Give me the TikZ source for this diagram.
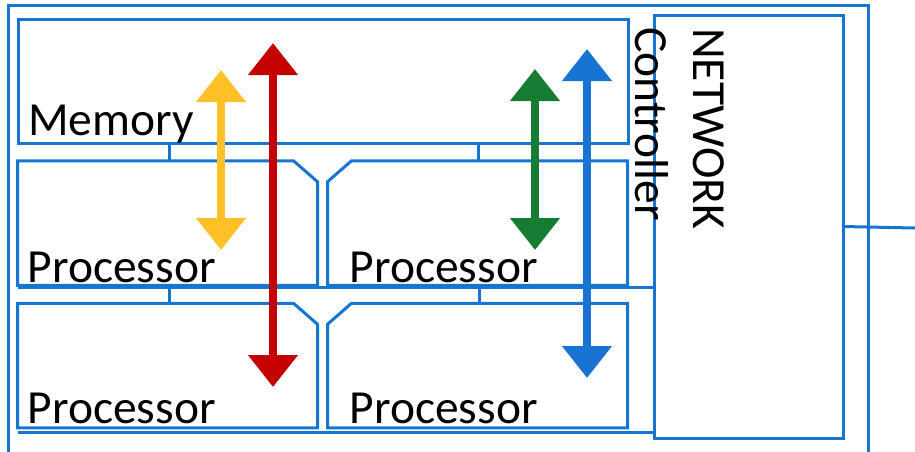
\documentclass[tikz,border=0pt]{standalone}
\usepackage{fontspec}
\setmainfont{Carlito}
\usepackage{tikz}
\usetikzlibrary{positioning,arrows.meta,calc}
\definecolor{wire}{RGB}{23,117,210}
\definecolor{ayellow}{RGB}{255,193,40}
\definecolor{ared}{RGB}{196,0,0}
\definecolor{agreen}{RGB}{22,124,52}
\definecolor{ablue}{RGB}{25,115,210}
% processor outline with one cut corner
\newcommand{\chipne}[1]{%
  \draw[bus] (#1.south west) -- (#1.north west) -- ([xshift=-24pt]#1.north east)
    -- ([yshift=-21pt]#1.north east) -- (#1.south east) -- cycle;}
\newcommand{\chipnw}[1]{%
  \draw[bus] (#1.south east) -- (#1.north east) -- ([xshift=24pt]#1.north west)
    -- ([yshift=-21pt]#1.north west) -- (#1.south west) -- cycle;}
\begin{document}
\begin{tikzpicture}[x=1pt,y=-1pt,
    bus/.style={draw=wire, line width=3pt},
    box/.style={rectangle, bus, inner sep=0pt, outer sep=0pt},
    cpu/.style={rectangle, inner sep=0pt, outer sep=0pt, minimum width=300pt, minimum height=124.5pt},
    lbl/.style={inner sep=0pt, anchor=base west, font=\fontsize{47.5}{57}\selectfont},
    flow/.style={line width=8pt, arrows={Triangle[width=48pt,length=32pt]-Triangle[width=48pt,length=32pt]}}]
  \useasboundingbox (0,0) rectangle (915,451);
  \node[box, minimum width=860pt, minimum height=470pt] (board) at (438,240) {};
  \node[box, minimum width=610pt, minimum height=124pt] (mem) at (323,81) {};
  \node[box, minimum width=189pt, minimum height=423pt] (net) at (748.5,226.5) {};
  % four processors
  \node[cpu] (p1) at (167.5,223) {};
  \node[cpu, right=10pt of p1] (p2) {};
  \node[cpu, below=18pt of p1] (p3) {};
  \node[cpu, right=10pt of p3] (p4) {};
  \chipne{p1} \chipnw{p2} \chipne{p3} \chipnw{p4}
  % buses
  \draw[bus] ([yshift=-2pt]p1.south west) -- ([yshift=-2pt]p1.south west -| net.west);
  \draw[bus] ([yshift=-5pt]p3.south west) -- ([yshift=-5pt]p3.south west -| net.west);
  \draw[bus] ([xshift=152pt]p1.north west) -- ([xshift=152pt]p1.north west |- mem.south);
  \draw[bus] ([xshift=151pt]p2.north west) -- ([xshift=151pt]p2.north west |- mem.south);
  \draw[bus] ([xshift=152pt]p3.north west) -- ([xshift=152pt]p3.north west |- p1.south);
  \draw[bus] ([xshift=152pt]p4.north west) -- ([xshift=152pt]p4.north west |- p2.south);
  \coordinate (ext) at (915,228);
  \draw[bus] (net.east) -- (ext);
  % labels
  \node[lbl] (memtxt) at ([shift={(10pt,8pt)}]mem.south west) {Memory};
  \node[lbl] (p1txt) at ([shift={(10pt,3pt)}]p1.south west) {Processor};
  \node[lbl] (p2txt) at ([shift={(22pt,3pt)}]p2.south west) {Processor};
  \node[lbl] (p3txt) at ([shift={(10pt,4pt)}]p3.south west) {Processor};
  \node[lbl] (p4txt) at ([shift={(22pt,4pt)}]p4.south west) {Processor};
  \node[lbl, rotate=-90] (ctltxt) at (635,27) {Controller};
  \node[lbl, rotate=-90] (nettxt) at (693,28) {NETWORK};
  % data paths
  \coordinate (ya) at (221,70);  \coordinate (yb) at (221,250);
  \coordinate (ra) at (273,43);  \coordinate (rb) at (273,387);
  \coordinate (ga) at (535,69);  \coordinate (gb) at (535,250);
  \coordinate (ba) at (587,49);  \coordinate (bb) at (587,378);
  \draw[flow, ayellow] (ya) -- (yb);
  \draw[flow, ared] (ra) -- (rb);
  \draw[flow, agreen] (ga) -- (gb);
  \draw[flow, ablue] (ba) -- (bb);
\end{tikzpicture}
\end{document}
